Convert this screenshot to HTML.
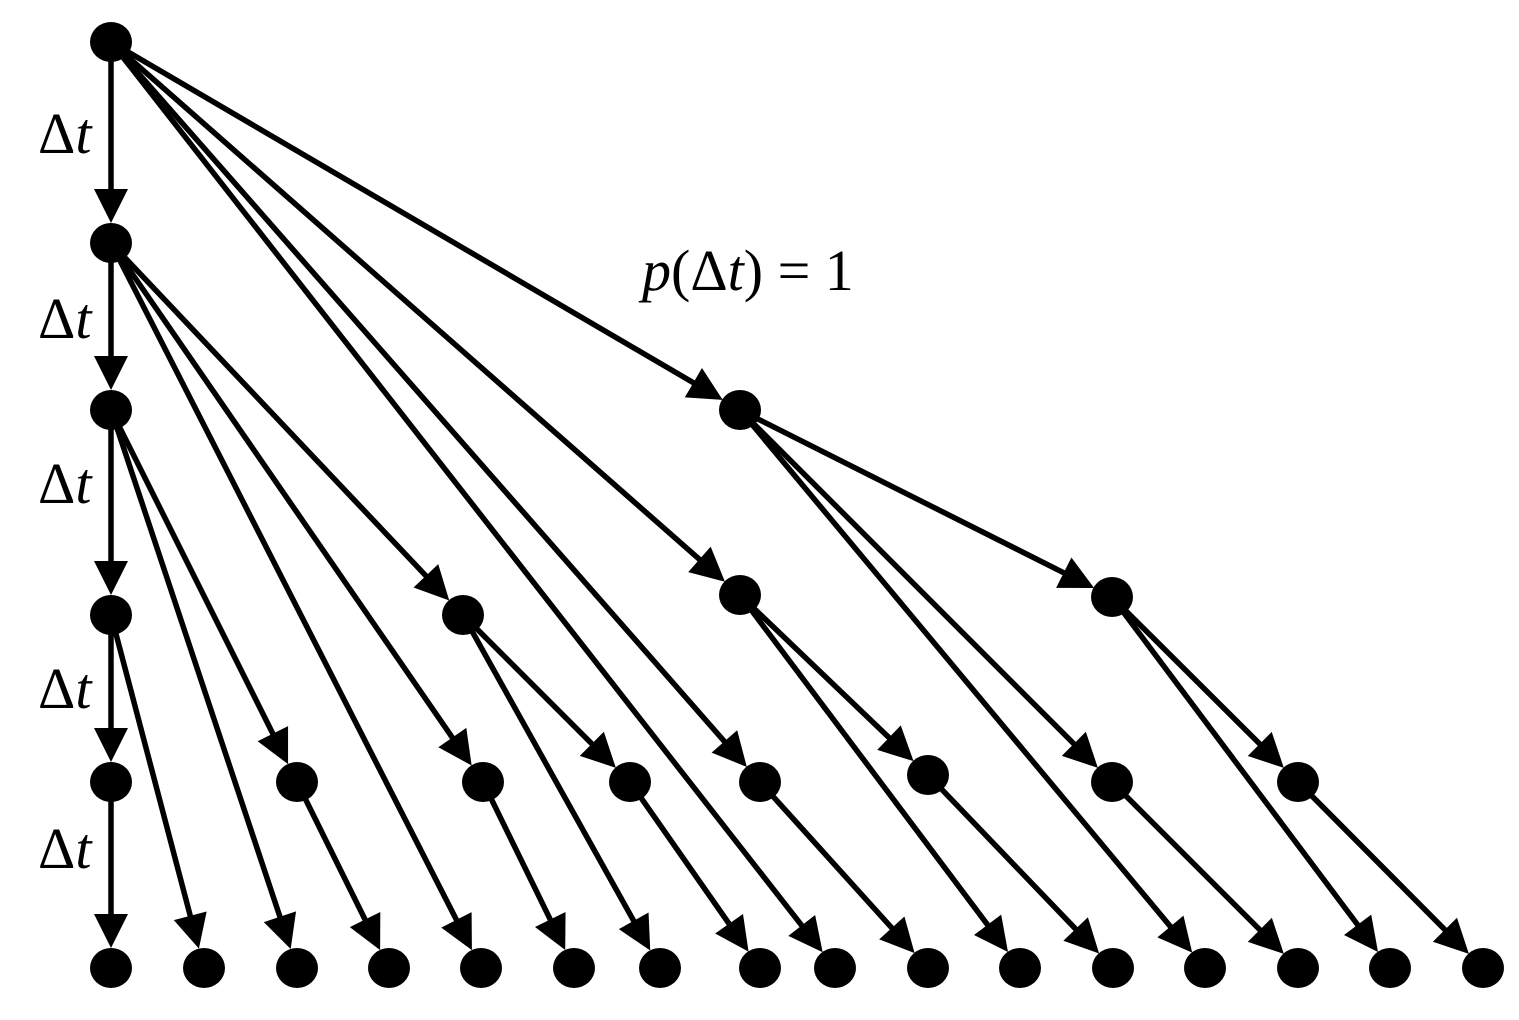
<!DOCTYPE html>
<html><head><meta charset="utf-8"><style>
html,body{margin:0;padding:0;background:#fff;}
svg{display:block;}
text{font-family:"Liberation Serif",serif;font-size:58px;fill:#000;}
</style></head><body>
<svg id="s" width="1519" height="1020" viewBox="0 0 1519 1020" xmlns="http://www.w3.org/2000/svg">
<text x="38" y="153">Δ<tspan font-style="italic">t</tspan></text>
<text x="38" y="338">Δ<tspan font-style="italic">t</tspan></text>
<text x="38" y="503">Δ<tspan font-style="italic">t</tspan></text>
<text x="38" y="708">Δ<tspan font-style="italic">t</tspan></text>
<text x="38" y="868">Δ<tspan font-style="italic">t</tspan></text>
<text x="642" y="290"><tspan font-style="italic">p</tspan>(Δ<tspan font-style="italic">t</tspan>) = 1</text>
</svg>
<script>
var N={R:[111,42],A:[111,243],B:[111,410],C:[111,615],D:[111,782],
E:[740,410],F:[463,615],G:[740,595],H:[1112,597],
I:[297,782],J:[483,782],K:[630,782],L:[760,782],M:[928,775],O:[1112,782],P:[1298,782]};
var bx=[111,204,297,389,481,574,660,760,835,928,1020,1113,1205,1298,1390,1483];
bx.forEach(function(x,i){N['b'+i]=[x,968];});
var E=[['R','A'],['R','E'],['R','G'],['R','L'],['R','b8'],
['A','B'],['A','F'],['A','J'],['A','b4'],
['B','C'],['B','I'],['B','b2'],
['C','D'],['C','b1'],['D','b0'],
['E','H'],['E','O'],['E','b12'],
['G','M'],['G','b10'],['H','P'],['H','b14'],
['F','K'],['F','b6'],
['I','b3'],['J','b5'],['K','b7'],['L','b9'],['M','b11'],['O','b13'],['P','b15']];
var s=document.getElementById('s'),ns='http://www.w3.org/2000/svg',r=20,al=34,aw=17;
function el(t,a){var e=document.createElementNS(ns,t);for(var k in a)e.setAttribute(k,a[k]);s.appendChild(e);}
E.forEach(function(e){var p=N[e[0]],q=N[e[1]];var dx=q[0]-p[0],dy=q[1]-p[1],L=Math.hypot(dx,dy),ux=dx/L,uy=dy/L;
var tx=q[0]-ux*r,ty=q[1]-uy*r,bxp=tx-ux*al,byp=ty-uy*al;
el('line',{x1:p[0],y1:p[1],x2:bxp+ux*2,y2:byp+uy*2,stroke:'#000','stroke-width':5.5});
el('polygon',{points:tx+','+ty+' '+(bxp-uy*aw)+','+(byp+ux*aw)+' '+(bxp+uy*aw)+','+(byp-ux*aw),fill:'#000'});});
for(var k in N){el('ellipse',{cx:N[k][0],cy:N[k][1],rx:21,ry:20,fill:'#000'});}
</script>
</body></html>
